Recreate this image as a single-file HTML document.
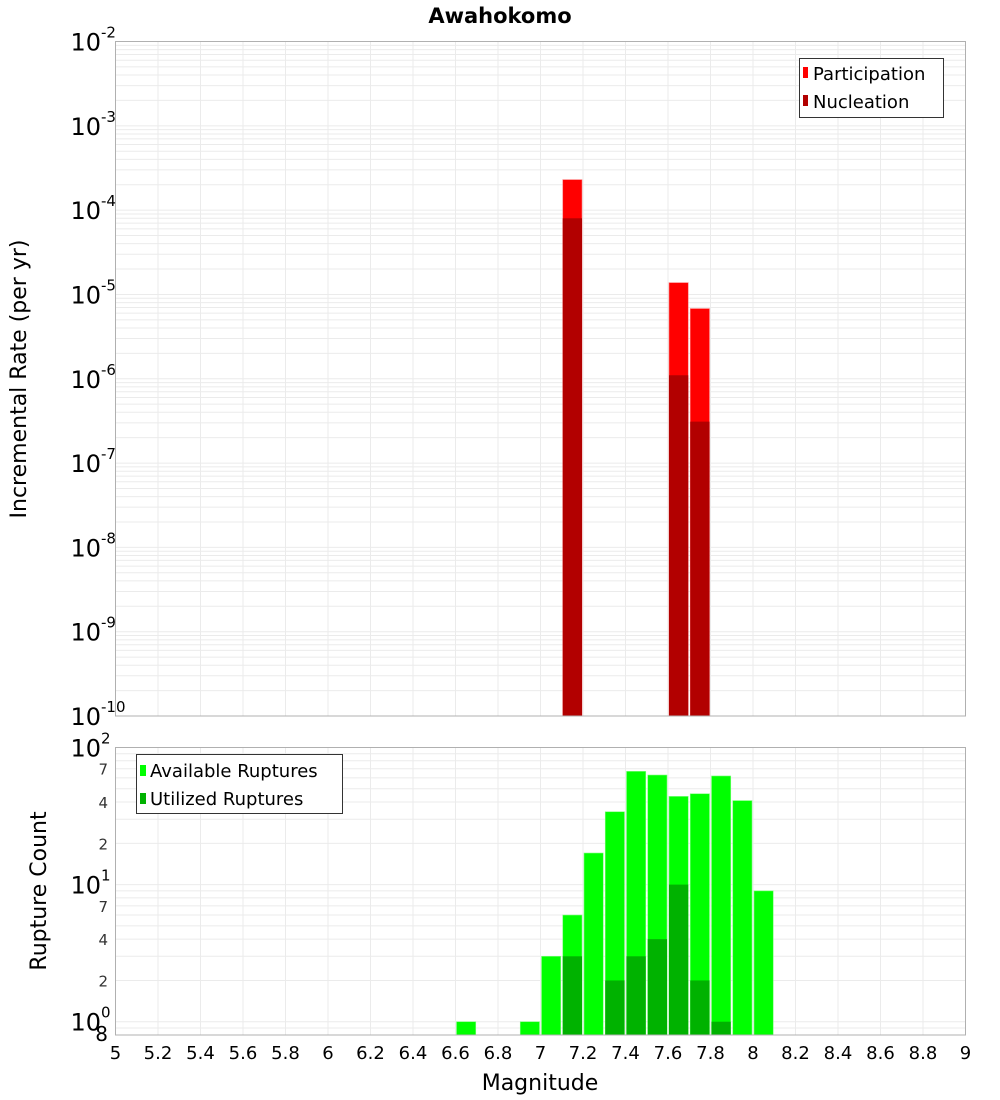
<!DOCTYPE html>
<html><head><meta charset="utf-8"><style>
body{margin:0;background:#fff;}
svg{display:block;font-family:"DejaVu Sans","Liberation Sans",sans-serif;}
</style></head><body>
<svg id="c" width="1000" height="1100" xmlns="http://www.w3.org/2000/svg"></svg>
<script>
const topMags=[7.15,7.65,7.75];
const participation=[2.3e-4,1.38e-5,6.8e-6];
const nucleation=[8.0e-5,1.1e-6,3.1e-7];
const cntMags=[6.65,6.95,7.05,7.15,7.25,7.35,7.45,7.55,7.65,7.75,7.85,7.95,8.05];
const available=[1,1,3,6,17,34,67,63,44,46,62,41,9];
const utilized=[0,0,0,3,0,2,3,4,10,2,1,0,0];
const xTicks=[5,5.2,5.4,5.6,5.8,6,6.2,6.4,6.6,6.8,7,7.2,7.4,7.6,7.8,8,8.2,8.4,8.6,8.8,9];
const topExps=[-2,-3,-4,-5,-6,-7,-8,-9,-10];
const botMinor=[7,4,2,7,4,2];
const botMinorVals=[70,40,20,7,4,2];

const svg=document.getElementById('c');
const NS='http://www.w3.org/2000/svg';
function el(tag,attrs,parent){const e=document.createElementNS(NS,tag);for(const k in attrs)e.setAttribute(k,attrs[k]);(parent||svg).appendChild(e);return e;}
const L=115.5,R=965.5;
const x=v=>L+(v-5)/(9-5)*(R-L);
const T1=41.5,B1=716;
const y1=v=>T1+(-2-Math.log10(v))/8*(B1-T1);
const T2=747.5,B2=1035;
const y2=v=>T2+(2-Math.log10(v))/(2-Math.log10(0.8))*(B2-T2);

// title
let t=el('text',{x:500,y:23,'text-anchor':'middle','font-size':21,'font-weight':'bold'});t.textContent='Awahokomo';


function frame(T,B,name){
  const g=el('g',{});
  el('rect',{x:L,y:T,width:R-L,height:B-T,fill:'#fff'},g);
  return g;
}
// top panel
const g1=frame(T1,B1,'top-plot');
for(let e=-10;e<-2;e++)for(let m=1;m<10;m++){const v=m*Math.pow(10,e);const yy=y1(v);if(yy<T1)continue;
  const ln=el('line',{x1:L,x2:R,y1:yy,y2:yy,stroke:'#ebebeb','stroke-width':1},g1);}
xTicks.forEach(v=>{const ln=el('line',{x1:x(v),x2:x(v),y1:T1,y2:B1,stroke:'#ebebeb'},g1);});
const bw=(x(5.1)-x(5))-2;
topMags.forEach((m,i)=>{
  const r=el('rect',{x:x(m)-bw/2,y:y1(participation[i]),width:bw,height:B1-y1(participation[i]),fill:'#ff0000',stroke:'#ff8080','stroke-width':0.6},g1);
  
  const n=el('rect',{x:x(m)-bw/2,y:y1(nucleation[i]),width:bw,height:B1-y1(nucleation[i]),fill:'#b20000'},g1);
  
});
el('rect',{x:L,y:T1,width:R-L,height:B1-T1,fill:'none',stroke:'#b0b0b0'},g1);
topExps.forEach(e=>{const yy=y1(Math.pow(10,e));
  const tx=el('text',{x:101,y:yy+9,'text-anchor':'end','font-size':24});tx.textContent='10';
  
  const s=el('text',{x:101,y:yy-4,'font-size':15});s.textContent=String(e);
  
});
t=el('text',{x:0,y:0,transform:'translate(26,379) rotate(-90)','text-anchor':'middle','font-size':22});t.textContent='Incremental Rate (per yr)';

// top legend
const lg1=el('g',{});
el('rect',{x:799.5,y:58.5,width:144,height:59,fill:'#fff',stroke:'#333'},lg1);
el('rect',{x:803,y:67,width:5,height:11,fill:'#ff0000'},lg1);
el('rect',{x:803,y:95,width:5,height:11,fill:'#b20000'},lg1);
t=el('text',{x:813,y:80,'font-size':18},lg1);t.textContent='Participation';
t=el('text',{x:813,y:108,'font-size':18},lg1);t.textContent='Nucleation';

// bottom panel
const g2=frame(T2,B2,'bottom-plot');
[0.8,0.9,1,2,3,4,5,6,7,8,9,10,20,30,40,50,60,70,80,90].forEach(v=>{const yy=y2(v);
  const ln=el('line',{x1:L,x2:R,y1:yy,y2:yy,stroke:'#ebebeb'},g2);});
xTicks.forEach(v=>{const ln=el('line',{x1:x(v),x2:x(v),y1:T2,y2:B2,stroke:'#ebebeb'},g2);});
cntMags.forEach((m,i)=>{
  const r=el('rect',{x:x(m)-bw/2,y:y2(available[i]),width:bw,height:B2-y2(available[i]),fill:'#00ff00',stroke:'#80ff80','stroke-width':0.6},g2);
  
  if(utilized[i]>0){const n=el('rect',{x:x(m)-bw/2,y:y2(utilized[i]),width:bw,height:B2-y2(utilized[i]),fill:'#00b200'},g2);
  }
});
el('rect',{x:L,y:T2,width:R-L,height:B2-T2,fill:'none',stroke:'#b0b0b0'},g2);
[[100,'2'],[10,'1'],[1,'0']].forEach(([v,e])=>{const yy=y2(v);
  const tx=el('text',{x:101,y:yy+9,'text-anchor':'end','font-size':24});tx.textContent='10';
  
  const s=el('text',{x:101,y:yy-4,'font-size':15});s.textContent=e;
  });
botMinorVals.forEach((v,i)=>{const tx=el('text',{x:108,y:y2(v)+6,'text-anchor':'end','font-size':15,fill:'#333'});tx.textContent=String(botMinor[i]);
  });
t=el('text',{x:108,y:1041,'text-anchor':'end','font-size':20});t.textContent='8';
xTicks.forEach(v=>{const tx=el('text',{x:x(v),y:1059,'text-anchor':'middle','font-size':18});tx.textContent=String(v);
  });
t=el('text',{x:540,y:1090,'text-anchor':'middle','font-size':22});t.textContent='Magnitude';
t=el('text',{x:0,y:0,transform:'translate(46,891) rotate(-90)','text-anchor':'middle','font-size':22});t.textContent='Rupture Count';

const lg2=el('g',{});
el('rect',{x:136.5,y:754.5,width:206,height:59,fill:'#fff',stroke:'#333'},lg2);
el('rect',{x:140,y:765,width:6,height:11,fill:'#00ff00'},lg2);
el('rect',{x:140,y:793,width:6,height:11,fill:'#00b200'},lg2);
t=el('text',{x:150,y:777,'font-size':18},lg2);t.textContent='Available Ruptures';
t=el('text',{x:150,y:805,'font-size':18},lg2);t.textContent='Utilized Ruptures';
</script>
</body></html>
